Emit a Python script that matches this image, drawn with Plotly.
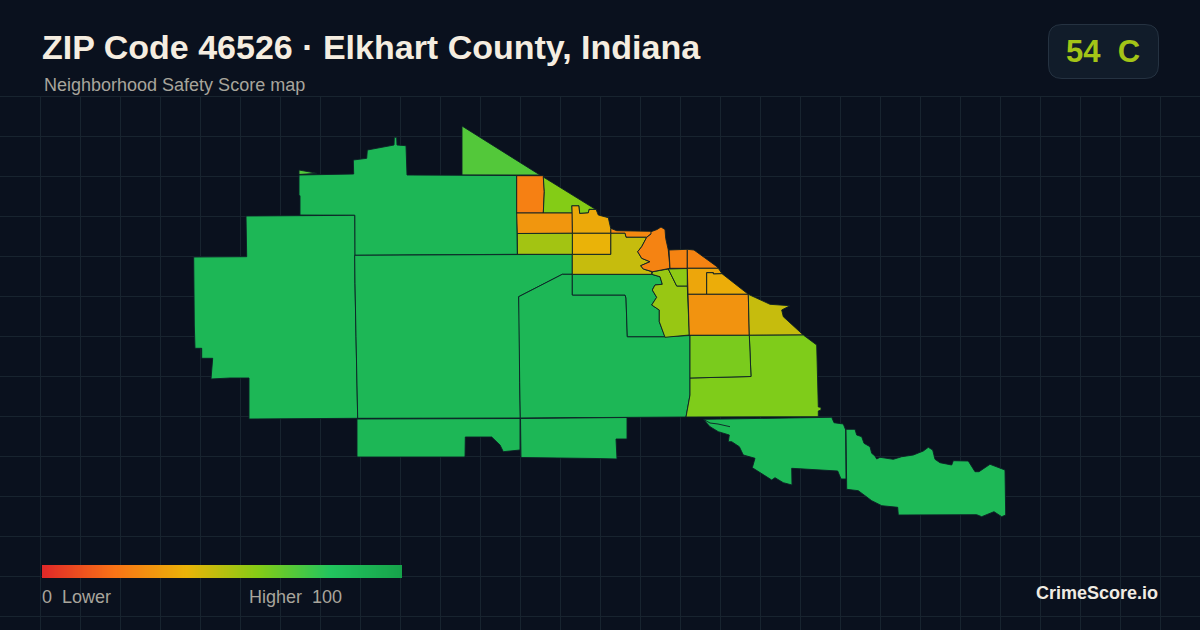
import plotly.graph_objects as go

# ---- chart content -------------------------------------------------------
TITLE = "ZIP Code 46526 · Elkhart County, Indiana"
SUBTITLE = "Neighborhood Safety Score map"
BADGE = "54  C"
BRAND = "CrimeScore.io"
LEGEND_LOW = "0  Lower"
LEGEND_HIGH = "Higher  100"

SCALE_STOPS = [0.0, 0.2, 0.4, 0.6, 0.8, 1.0]
SCALE_COLORS = ["#e02828", "#f97316", "#eab308", "#84cc16", "#22c55e", "#16a34a"]
SCALE_VALUES = list(range(0, 101))

score_north_wedge = 70
score_sliver = 70
score_northwest = 88
score_west = 88
score_central = 88
score_east_central = 88
score_inner_green = 88
score_south_a = 88
score_south_b = 88
score_se_left = 87
score_se_right = 87
score_strip = 56
score_small_lime = 58
score_city = 25
score_city_west = 27
score_olive = 47
score_yellow_top = 37
score_yellow_low = 40
score_nw_orange = 24
score_lime_wedge = 60
score_orange_bar = 31
score_lime_bar = 54
score_east_small = 25
score_east_ne = 25
score_gold_a = 36
score_gold_b = 38
score_orange_big = 30
score_olive_east = 47
score_lime_east = 61
score_lime_box = 62

# Block-group outlines in map units
north_wedge = [(462, 126), (540, 175), (462, 175)]
sliver = [(299, 170), (317, 173.3), (299, 174.5)]
northwest = [(299, 175), (353.7, 174), (353.3, 160), (366.7, 158.3), (367.3, 150), (394, 145), (394.3, 137.3),
             (396.7, 137.3), (397, 145), (406, 145.7), (407, 175), (516.7, 175.5), (517.3, 254.3), (354.7, 255.3),
             (354.7, 215.3), (300, 215), (300, 195.7), (299, 195.7)]
west = [(246, 216), (354.7, 215.3), (355, 283.3), (356, 336.7), (357.3, 390), (357.7, 418.3), (249, 419),
        (249, 378), (230, 378), (211, 379), (212.7, 358.3), (201.7, 358.3), (201.7, 348.3), (195, 348.3),
        (194.3, 325), (193.7, 257), (246.7, 256.7), (246, 236.7)]
central = [(354.7, 255.3), (572.3, 254.3), (572.3, 274.3), (562.3, 274.3), (518.7, 296.7), (519.3, 316.7),
           (519.7, 382.3), (520.3, 418), (357.7, 418.3), (357.3, 390), (356, 336.7), (355, 283.3)]
east_central = [(562.3, 274.3), (572.3, 274.3), (572.3, 295), (625, 295), (626, 298), (627.3, 336.7), (665, 336.7),
                (690, 335.5), (690, 378), (690, 395), (686, 417), (520.3, 418), (519.7, 382.3), (519.3, 316.7),
                (518.7, 296.7)]
inner_green = [(572.3, 274.3), (651.7, 274.3), (660, 276.7), (662.3, 284.3), (655, 285), (652.3, 290), (656.7, 297.3),
               (651.7, 305), (659.3, 310), (659.3, 321.7), (665, 336.7), (627.3, 336.7), (626, 298), (625, 295),
               (572.3, 295)]
strip = [(652.7, 271.7), (668.3, 269), (676.7, 286), (687.3, 286), (689.3, 335), (665, 337.3), (659.3, 321.7),
         (659.3, 310), (651.7, 305), (656.7, 297.3), (652.3, 290), (655, 285), (662.3, 284.3), (660, 276.7),
         (651.7, 274.3)]
small_lime = [(668.3, 269), (687.3, 268.5), (687.3, 286), (676.7, 286)]
city = [(651, 231.7), (657, 229.5), (661, 227), (664, 229.5), (665, 229.5), (665.7, 238.3), (668.3, 250), (670, 268.3),
        (652.7, 271.7), (643.3, 269), (640.7, 265.7), (650, 261.7), (641.7, 258.3), (637.7, 251.7), (641.7, 246.7),
        (646.7, 237.3), (651, 234)]
city_west = [(610.7, 228.3), (616.7, 230.7), (651, 231.3), (651.7, 233.3), (646.7, 237.3), (626, 237.3), (625, 233.3),
             (610.7, 233.3)]
olive = [(610.7, 233.3), (625, 233.3), (626, 237.3), (646.7, 237.3), (641.7, 246.7), (637.7, 251.7), (641.7, 258.3),
         (650, 261.7), (640.7, 265.7), (643.3, 269), (651.7, 271.7), (651.7, 274.3), (572.3, 274.3), (572.3, 254.3),
         (610.7, 254.3)]
yellow_top = [(571.7, 205.7), (579, 205.7), (579.7, 213.3), (588.3, 212.7), (589, 209.3), (596, 209.3), (598.3, 215),
              (608.3, 217.7), (610.7, 228.3), (610.7, 233.3), (572.3, 233.3)]
yellow_low = [(572.3, 233.3), (610.7, 233.3), (610.7, 254.3), (572.3, 254.3)]
nw_orange = [(516.7, 175.7), (543.3, 175.7), (544.3, 191.7), (543.3, 213), (516.7, 213)]
lime_wedge = [(543.3, 177), (595.5, 209.3), (589, 209.3), (588.3, 212.7), (579.7, 213.3), (579, 205.7), (571.7, 205.7),
              (572, 213), (543.3, 213), (544.3, 191.7)]
orange_bar = [(516.7, 213), (572, 213), (572.3, 233.3), (517.3, 233.5)]
lime_bar = [(517.3, 233.5), (572.3, 233.3), (572.3, 254.3), (517.5, 254.3)]
east_small = [(669, 250), (687.3, 249.3), (687.3, 268.3), (670, 268.3)]
east_ne = [(687.3, 249.3), (694, 250), (717, 266.7), (718.3, 268.3), (687.3, 268.3)]
gold_a = [(687.3, 268.3), (718.3, 268.3), (722, 273.7), (713.3, 274), (713.3, 272.7), (706.7, 272.7), (706.7, 294.3),
          (688, 294.3)]
gold_b = [(706.7, 272.7), (713.3, 272.7), (713.3, 274), (722, 273.7), (748.3, 294.3), (706.7, 294.3)]
orange_big = [(688, 294.3), (748.3, 294.3), (749.3, 335.3), (689.3, 335.3)]
olive_east = [(748.3, 294.3), (770, 304.3), (790, 305.7), (781.7, 310), (783.3, 316.7), (803.3, 335), (749.3, 335.3)]
lime_east = [(749.3, 335.3), (803.3, 335), (816.7, 345), (818.3, 400), (818.3, 407), (821, 407.3), (821, 410),
             (818.3, 411), (818.3, 416.7), (686, 417), (690, 395), (690, 378), (751, 376.5)]
lime_box = [(690, 335.4), (749.3, 335.3), (751, 376.5), (690, 378)]
south_a = [(357, 419), (520, 418.5), (520, 450), (503.3, 451.7), (500, 445), (491.7, 437), (465.3, 437), (465, 457),
           (357, 457)]
south_b = [(520.5, 418.5), (627, 417.5), (627, 439), (616, 439), (617, 459), (596, 458.5), (521, 457.5)]
se_left = [(703.3, 419.3), (831.7, 417.3), (834, 422.7), (843.3, 424), (845.7, 430), (846, 479), (841, 479), (837.7, 471),
           (791.7, 468.3), (792, 485), (783.3, 482.7), (775, 477.7), (771.7, 480), (761.7, 473.3), (752.3, 467.7),
           (755, 458.3), (743.3, 455), (739.3, 446.7), (731.7, 441.7), (728.3, 441.7), (729.3, 435), (718.3, 431.7),
           (710, 426.7)]
se_right = [(846, 429.3), (855, 429.3), (856.7, 435), (861.7, 436.7), (864, 443.3), (870, 446.7), (871.7, 453.3),
            (875, 456), (876.7, 459), (880, 457.3), (893.3, 459.3), (901.7, 456.7), (913.3, 455), (923.3, 451),
            (928.3, 447.3), (932.7, 450), (935, 459.3), (940, 462.7), (951.7, 465), (953.3, 460.7), (968.3, 461),
            (975, 471.7), (979, 471.7), (990, 464.3), (1005, 470), (1005.7, 515), (1001.7, 516.7), (994, 511.7),
            (981.7, 516.7), (976.7, 514.7), (898.3, 515), (897.7, 507.3), (881.7, 505.7), (871.7, 500.7), (858.3, 490.7),
            (846.7, 489.3)]
river = [(703.3, 419.3), (710, 423), (718, 424), (730, 426.7)]

REGIONS = [
    (north_wedge, score_north_wedge), (sliver, score_sliver), (northwest, score_northwest), (west, score_west),
    (central, score_central), (east_central, score_east_central), (inner_green, score_inner_green),
    (strip, score_strip), (small_lime, score_small_lime), (city_west, score_city_west), (olive, score_olive),
    (city, score_city), (yellow_top, score_yellow_top), (yellow_low, score_yellow_low), (nw_orange, score_nw_orange),
    (lime_wedge, score_lime_wedge), (orange_bar, score_orange_bar), (lime_bar, score_lime_bar),
    (east_small, score_east_small), (east_ne, score_east_ne), (gold_a, score_gold_a), (gold_b, score_gold_b),
    (orange_big, score_orange_big), (olive_east, score_olive_east), (lime_east, score_lime_east),
    (lime_box, score_lime_box), (south_a, score_south_a), (south_b, score_south_b),
    (se_left, score_se_left), (se_right, score_se_right),
]

# ---- styling -------------------------------------------------------------
W, H = 1200, 630
BG = "#0a111e"
GRID = "#18242f"
EDGE = "#0c1f26"
COLORSCALE = [[s, c] for s, c in zip(SCALE_STOPS, SCALE_COLORS)]


def score_color(score):
    t = score / 100
    for i in range(len(SCALE_STOPS) - 1):
        if t <= SCALE_STOPS[i + 1]:
            f = (t - SCALE_STOPS[i]) / (SCALE_STOPS[i + 1] - SCALE_STOPS[i])
            a, b = SCALE_COLORS[i], SCALE_COLORS[i + 1]
            rgb = [round(int(a[j:j + 2], 16) * (1 - f) + int(b[j:j + 2], 16) * f) for j in (1, 3, 5)]
            return f"rgb({rgb[0]},{rgb[1]},{rgb[2]})"
    return SCALE_COLORS[-1]


fig = go.Figure()

for poly, score in REGIONS:
    xs = [p[0] for p in poly] + [poly[0][0]]
    ys = [p[1] for p in poly] + [poly[0][1]]
    fig.add_trace(go.Scatter(x=xs, y=ys, mode="lines", fill="toself", fillcolor=score_color(score),
                             line=dict(color=EDGE, width=0.9), hoverinfo="skip", showlegend=False))

fig.add_trace(go.Scatter(x=[p[0] for p in river], y=[p[1] for p in river], mode="lines",
                         line=dict(color=EDGE, width=0.9), hoverinfo="skip", showlegend=False))

# Legend gradient bar
fig.add_trace(go.Heatmap(z=[SCALE_VALUES, SCALE_VALUES], x=SCALE_VALUES, y=[0, 1], xaxis="x2", yaxis="y2",
                         colorscale=COLORSCALE, zmin=0, zmax=100, zsmooth="best",
                         showscale=False, hoverinfo="skip"))


def px(x):
    return x / W


def py(y):
    return 1 - y / H


def label(text, x, y, size, color, anchor="left", bold=False):
    return dict(text=f"<b>{text}</b>" if bold else text, x=px(x), y=py(y), xref="paper", yref="paper",
                xanchor=anchor, yanchor="middle", showarrow=False, borderpad=0, borderwidth=0,
                font=dict(family="Liberation Sans", size=size, color=color))


fig.update_layout(
    width=W, height=H, margin=dict(l=0, r=0, t=0, b=0),
    paper_bgcolor=BG, plot_bgcolor="rgba(0,0,0,0)", showlegend=False,
    xaxis=dict(domain=[0, 1], range=[0, W], tick0=0, dtick=40, showgrid=True, gridcolor=GRID, gridwidth=1,
               zeroline=False, showticklabels=False, ticks="", showline=False, fixedrange=True),
    yaxis=dict(domain=[0, py(96)], range=[H, 96], tick0=96, dtick=40, showgrid=True, gridcolor=GRID, gridwidth=1,
               zeroline=False, showticklabels=False, ticks="", showline=False, fixedrange=True),
    xaxis2=dict(domain=[px(42), px(402)], range=[0, 100], visible=False, anchor="y2", fixedrange=True),
    yaxis2=dict(domain=[py(578), py(565)], range=[0, 1], visible=False, anchor="x2", fixedrange=True),
    xaxis3=dict(domain=[0, 1], range=[0, W], visible=False, anchor="y3", fixedrange=True),
    yaxis3=dict(domain=[0, 1], range=[H, 0], visible=False, anchor="x3", fixedrange=True),
    shapes=[dict(type="line", xref="x3", yref="y3", layer="below", x0=0, x1=W, y0=96.5, y1=96.5,
                 line=dict(color=GRID, width=1)),
            dict(type="path", xref="x3", yref="y3", layer="below",
                 path="M 1062 24.5 L 1145 24.5 Q 1158.5 24.5 1158.5 38 L 1158.5 65 Q 1158.5 78.5 1145 78.5 "
                      "L 1062 78.5 Q 1048.5 78.5 1048.5 65 L 1048.5 38 Q 1048.5 24.5 1062 24.5 Z",
                 fillcolor="#111c2a", line=dict(color="#253241", width=1))],
    annotations=[
        label(TITLE, 42, 47, 34, "#f5ede0", bold=True),
        label(SUBTITLE, 44, 85, 18, "#a8a59c"),
        label(BADGE, 1103, 51, 31, "#a3c417", anchor="center", bold=True),
        label(LEGEND_LOW, 42, 597, 18, "#a8a59c"),
        label(LEGEND_HIGH, 249, 597, 18, "#a8a59c"),
        label(BRAND, 1158, 593, 18, "#f0ebe3", anchor="right", bold=True),
    ],
)

fig.add_trace(go.Scatter(x=[None], y=[None], xaxis="x3", yaxis="y3", hoverinfo="skip", showlegend=False))

fig.write_html("out.html", config={"displayModeBar": False},
               post_script="document.body.style.margin='0';document.body.style.background='#0a111e';document.body.style.overflow='hidden';")
